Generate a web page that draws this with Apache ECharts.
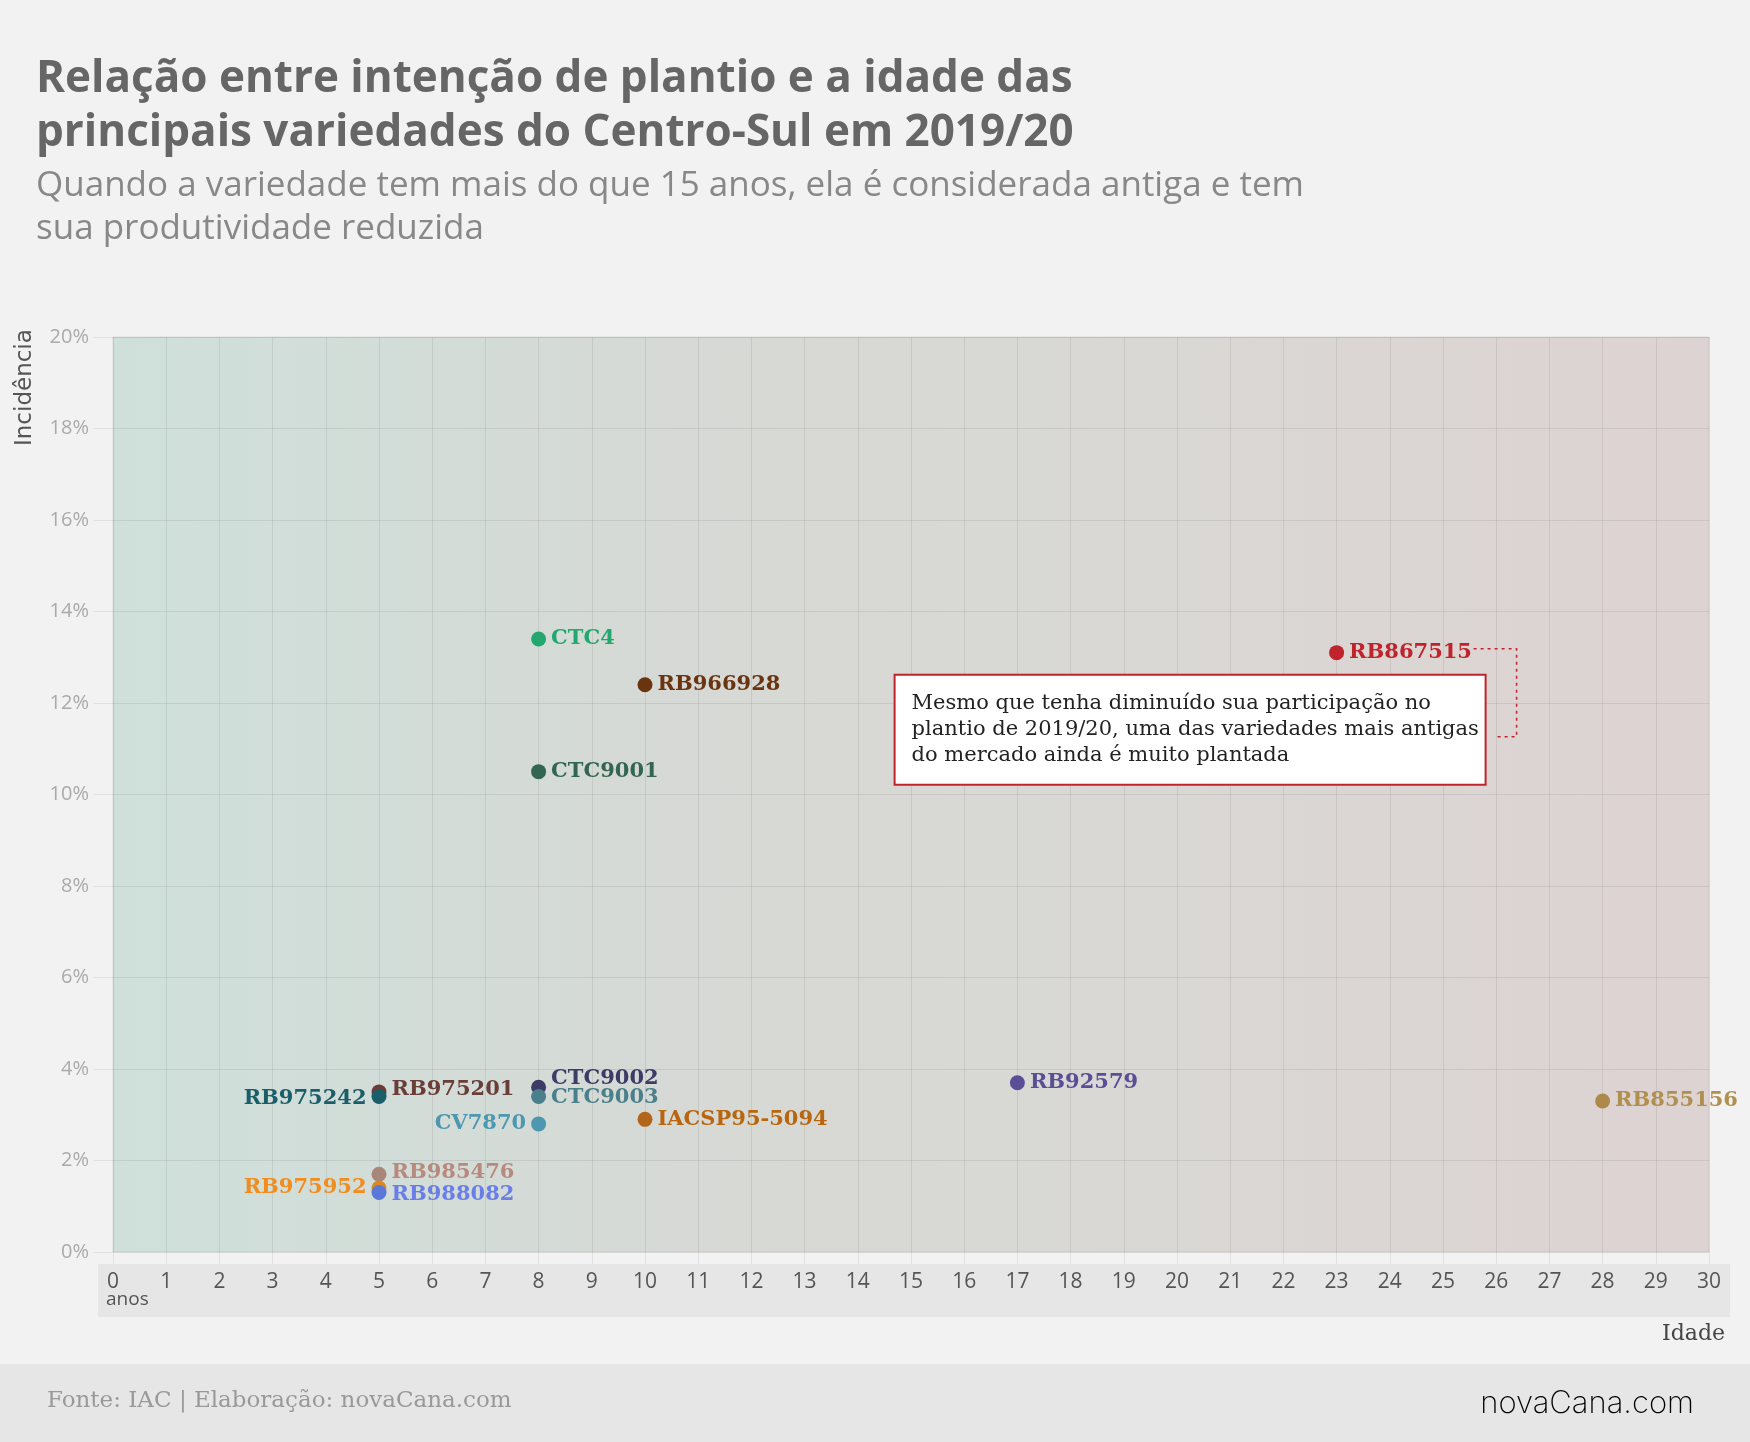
<!DOCTYPE html>
<html>
<head>
<meta charset="utf-8">
<script src="https://cdn.jsdelivr.net/npm/echarts@6/dist/echarts.min.js"></script>
<style>
html,body{margin:0;padding:0;background:#f2f2f2;}
#chart{width:1750px;height:1442px;}
</style>
</head>
<body>
<div id="chart"></div>
<script>
// ---- data ----
const varieties = ["CTC4","RB966928","CTC9001","RB867515","CTC9002","CTC9003","CV7870","IACSP95-5094","RB975201","RB975242","RB92579","RB855156","RB985476","RB975952","RB988082"];
const ages      = [8, 10, 8, 23, 8, 8, 8, 10, 5, 5, 17, 28, 5, 5, 5];
const incidence = [13.4, 12.4, 10.5, 13.1, 3.6, 3.4, 2.8, 2.9, 3.5, 3.4, 3.7, 3.3, 1.7, 1.4, 1.3];
const dotColors   = ["#22a86f","#6b3410","#336650","#c0232c","#3b3d66","#4a7f8c","#4e97b0","#b3661a","#6b3d38","#1a5e6a","#5a4f96","#ad8a4c","#a8877a","#d88a20","#5a78d8"];
const labelColors = ["#22a86f","#6b3410","#336650","#c0232c","#3b3d66","#4a7f8c","#4e97b0","#b8660f","#6b3d38","#1a5e6a","#5a4f96","#b0904f","#b88a7e","#f28c1c","#6a7ee8"];
const labelSide   = ["right","right","right","right","right","right","left","right","right","left","right","right","right","left","right"];
const labelDy     = [0,0,0,0,-9,1,0,0,-2,2,0,0,-2,0,2];
const yTicks = [0,2,4,6,8,10,12,14,16,18,20];
const xTicks = [0,1,2,3,4,5,6,7,8,9,10,11,12,13,14,15,16,17,18,19,20,21,22,23,24,25,26,27,28,29,30];
const titleLines = ["Relação entre intenção de plantio e a idade das","principais variedades do Centro-Sul em 2019/20"];
const subtitleLines = ["Quando a variedade tem mais do que 15 anos, ela é considerada antiga e tem","sua produtividade reduzida"];
const noteLines = ["Mesmo que tenha diminuído sua participação no","plantio de 2019/20, uma das variedades mais antigas","do mercado ainda é muito plantada"];
const highlighted = "RB867515";

const SERIF = '"DejaVu Serif", serif';
const SANS = '"Open Sans", Lato, sans-serif';

const chart = echarts.init(document.getElementById('chart'));

const points = varieties.map((name, i) => ({
  name: name,
  value: [ages[i], incidence[i]],
  itemStyle: {color: dotColors[i], opacity: 1},
  label: {
    show: true,
    position: labelSide[i],
    distance: 5,
    offset: [0, labelDy[i]],
    color: labelColors[i],
    formatter: name
  }
}));

const gridLine = 'rgba(0,0,0,0.075)';

const option = {
  backgroundColor: '#f2f2f2',
  animation: false,
  grid: {
    left: 113, right: 41, top: 337, bottom: 190,
    show: true,
    borderColor: 'rgba(0,0,0,0.08)',
    borderWidth: 1,
    backgroundColor: new echarts.graphic.LinearGradient(0, 0, 1, 0, [
      {offset: 0, color: '#cfe0db'},
      {offset: 0.35, color: '#d6d9d5'},
      {offset: 0.6, color: '#d9d8d4'},
      {offset: 1, color: '#ddd3d2'}
    ])
  },
  xAxis: {
    type: 'value', min: 0, max: 30, interval: 1,
    axisLine: {show: false},
    axisTick: {show: true, length: 12, lineStyle: {color: gridLine}},
    splitLine: {show: true, lineStyle: {color: gridLine}},
    axisLabel: {color: '#555', fontSize: 21, fontFamily: SANS, margin: 20,
      formatter: v => xTicks.includes(v) ? String(v) : ''}
  },
  yAxis: {
    type: 'value', min: 0, max: 20, interval: 2,
    axisLine: {show: false},
    axisTick: {show: true, length: 19, lineStyle: {color: gridLine}},
    splitLine: {show: true, lineStyle: {color: gridLine}},
    axisLabel: {color: '#aaa', fontSize: 20, fontFamily: SANS, margin: 24,
      formatter: v => yTicks.includes(v) ? v + '%' : ''}
  },
  series: [{
    type: 'scatter',
    symbolSize: 15,
    data: points,
    label: {fontFamily: SERIF, fontWeight: 'bold', fontSize: 21},
    z: 5
  }],
  graphic: []
};
chart.setOption(option);

// ---- decorations (text and annotation) ----
const g = [];
titleLines.forEach((t, i) => g.push({type: 'text', left: 36, top: 57 + i * 54,
  style: {text: t, font: 'bold 44px ' + SANS, fill: '#666'}}));
subtitleLines.forEach((t, i) => g.push({type: 'text', left: 36, top: 169 + i * 43,
  style: {text: t, font: '35px ' + SANS, fill: '#888'}}));
g.push({type: 'text', x: 14, y: 446, rotation: Math.PI / 2,
  style: {text: 'Incidência', font: '23px "DejaVu Sans", sans-serif', fill: '#555', textVerticalAlign: 'top'}});
// x-axis band
g.push({type: 'rect', shape: {x: 98, y: 1264, width: 1632, height: 53}, style: {fill: '#e6e6e6'}, z: -1});
g.push({type: 'text', x: 106, y: 1290, style: {text: 'anos', font: '19px ' + SANS, fill: '#555'}});
g.push({type: 'text', x: 1725, y: 1323, style: {text: 'Idade', font: '22px ' + SERIF, fill: '#444', textAlign: 'right'}});
// footer
g.push({type: 'rect', shape: {x: 0, y: 1364, width: 1750, height: 78}, style: {fill: '#e6e6e6'}, z: -1});
g.push({type: 'text', x: 47, y: 1390, style: {text: 'Fonte: IAC | Elaboração: novaCana.com', font: '23px ' + SERIF, fill: '#999'}});
g.push({type: 'text', x: 1694, y: 1388, style: {
  text: '{a|novaCana}{b|.com}', textAlign: 'right',
  rich: {a: {fontFamily: 'Inter, sans-serif', fontWeight: 200, fontSize: 31, color: '#111'},
         b: {fontFamily: 'Inter, sans-serif', fontWeight: 200, fontSize: 31, color: '#1d7a3c'}}}});

// annotation anchored to the highlighted point
const hi = varieties.indexOf(highlighted);
const p = chart.convertToPixel({gridIndex: 0}, [ages[hi], incidence[hi]]);
const boxX = p[0] - 442, boxY = p[1] + 22, boxW = 591, boxH = 110;
g.push({type: 'rect', shape: {x: boxX, y: boxY, width: boxW, height: boxH},
  style: {fill: '#fff', stroke: '#c0232c', lineWidth: 2}, z: 10});
noteLines.forEach((t, i) => g.push({type: 'text', x: boxX + 17, y: boxY + 18 + i * 26,
  style: {text: t, font: '21px ' + SERIF, fill: '#222'}, z: 11}));
g.push({type: 'polyline', shape: {points: [[p[0] + 137, p[1] - 4], [p[0] + 180, p[1] - 4], [p[0] + 180, p[1] + 84], [boxX + boxW + 8, p[1] + 84]]},
  style: {stroke: '#c0232c', lineWidth: 1.5, lineDash: [3, 4], fill: null}, z: 10});

chart.setOption({graphic: g});
</script>
</body>
</html>
